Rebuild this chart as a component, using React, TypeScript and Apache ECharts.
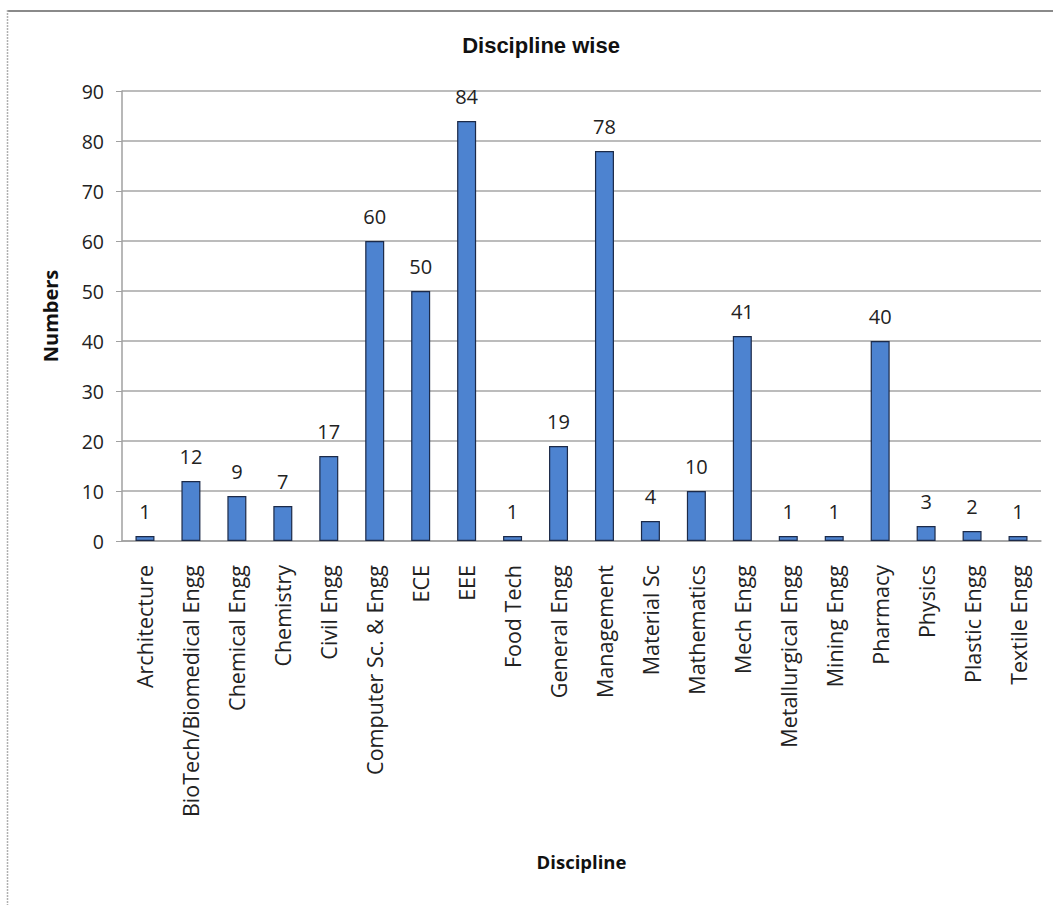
import React, { useEffect, useRef } from "react";
import * as echarts from "echarts";

const categories = [
  "Architecture",
  "BioTech/Biomedical Engg",
  "Chemical Engg",
  "Chemistry",
  "Civil Engg",
  "Computer Sc. & Engg",
  "ECE",
  "EEE",
  "Food Tech",
  "General Engg",
  "Management",
  "Material Sc",
  "Mathematics",
  "Mech Engg",
  "Metallurgical Engg",
  "Mining Engg",
  "Pharmacy",
  "Physics",
  "Plastic Engg",
  "Textile Engg",
];
const values = [1, 12, 9, 7, 17, 60, 50, 84, 1, 19, 78, 4, 10, 41, 1, 1, 40, 3, 2, 1];

const FONT = "'Open Sans', 'Liberation Sans', sans-serif";

export default function App() {
  const ref = useRef<HTMLDivElement>(null);
  useEffect(() => {
    document.body.style.margin = "0";
    const chart = echarts.init(ref.current!, null, { renderer: "svg" });
    chart.setOption({
      animation: false,
      backgroundColor: "#ffffff",
      title: {
        text: "Discipline wise",
        left: 536,
        top: 29,
        textAlign: "center",
        textStyle: { fontFamily: "'Liberation Sans', Arial, sans-serif", fontSize: 22, fontWeight: "bold", color: "#111" },
      },
      graphic: [
        {
          type: "line",
          shape: { x1: 7, y1: 11, x2: 1053, y2: 11 },
          style: { stroke: "#8a8a8a", lineWidth: 2 },
        },
        {
          type: "line",
          shape: { x1: 7.5, y1: 10, x2: 7.5, y2: 905 },
          style: { stroke: "#b0b0b0", lineWidth: 1.5, lineDash: [2, 1] },
        },
      ],
      grid: { left: 122, right: 12, top: 91, bottom: 364, containLabel: false },
      xAxis: {
        type: "category",
        data: categories,
        name: "Discipline",
        nameLocation: "middle",
        nameGap: 311,
        nameTextStyle: { fontFamily: FONT, fontSize: 18.5, fontWeight: "bold", color: "#111" },
        axisLine: { lineStyle: { color: "#a0a0a0", width: 1.5 } },
        axisTick: { show: false },
        axisLabel: {
          interval: 0,
          rotate: 90,
          margin: 24,
          fontFamily: FONT,
          fontSize: 21.5,
          color: "#222",
        },
      },
      yAxis: {
        type: "value",
        min: 0,
        max: 90,
        interval: 10,
        name: "Numbers",
        nameLocation: "middle",
        nameGap: 62,
        nameRotate: 90,
        nameTextStyle: { fontFamily: FONT, fontSize: 20, fontWeight: "bold", color: "#111" },
        axisLine: { show: true, lineStyle: { color: "#a0a0a0", width: 1.5 } },
        axisTick: { show: true, length: 6, lineStyle: { color: "#a0a0a0" } },
        axisLabel: { margin: 18, fontFamily: FONT, fontSize: 19.5, color: "#222" },
        splitLine: { lineStyle: { color: "#a6a6a6", width: 1.5 } },
      },
      series: [
        {
          type: "bar",
          data: values,
          barWidth: 19,
          itemStyle: { color: "#4d83d0", borderColor: "#1c2a48", borderWidth: 1.2 },
          label: {
            show: true,
            position: "top",
            distance: 15,
            fontFamily: FONT,
            fontSize: 20,
            color: "#222",
          },
        },
      ],
    });
    return () => chart.dispose();
  }, []);
  return <div ref={ref} style={{ width: 1053, height: 905 }} />;
}
